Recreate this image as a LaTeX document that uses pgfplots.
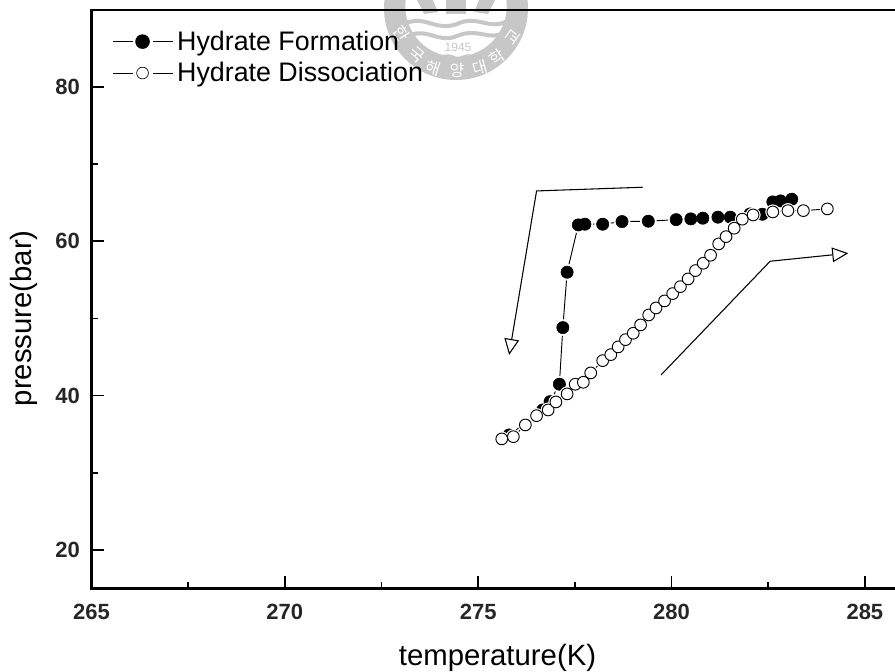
\documentclass[border=0pt]{standalone}
\usepackage{fontspec}
\setmainfont{Liberation Sans}
\newfontfamily\krfont{Noto Sans CJK KR}
\usepackage{pgfplots}
\pgfplotsset{compat=1.18}
\usetikzlibrary{arrows.meta}
\definecolor{seal}{gray}{0.78}
\pgfplotstableread{
x y
283.11 65.45
282.82 65.23
282.62 65.10
282.35 63.50
282.03 63.54
281.52 63.12
281.20 63.12
280.81 62.99
280.50 62.90
280.12 62.80
279.40 62.60
278.72 62.55
278.22 62.21
277.76 62.21
277.59 62.12
277.30 55.99
277.19 48.81
277.10 41.48
276.86 39.22
276.67 38.14
276.51 37.50
275.80 34.90
}\formation
\pgfplotstableread{
x y
275.61 34.39
275.91 34.68
276.22 36.20
276.51 37.40
276.81 38.14
277.01 39.18
277.30 40.22
277.51 41.47
277.72 41.73
277.91 42.94
278.22 44.53
278.43 45.31
278.62 46.31
278.81 47.25
279.01 48.08
279.20 49.16
279.41 50.45
279.60 51.36
279.82 52.27
280.03 53.22
280.23 54.12
280.43 55.12
280.62 56.20
280.82 57.15
281.01 58.19
281.22 59.66
281.41 60.60
281.62 61.69
281.83 62.86
282.11 63.41
282.62 63.80
283.01 63.97
283.41 63.97
284.03 64.19
}\dissociation
\begin{document}
\begin{tikzpicture}
\useasboundingbox (0,0) rectangle (671.25pt,-503.25pt);
% watermark seal
\begin{scope}[x=0.75pt,y=-0.75pt]
\fill[seal] (456,8) circle (54pt);
\fill[white] (456,6) circle (38pt);
\draw[seal,line width=3pt] (404,24) .. controls (425,14) and (435,32) .. (457,24) .. controls (478,14) and (490,32) .. (509,20);
\draw[seal,line width=3pt] (408,36) .. controls (428,27) and (438,44) .. (457,36) .. controls (478,27) and (490,42) .. (505,32);
\fill[seal] (416,-2) -- (432,-2) -- (438,12) -- (424,14) -- cycle;
\fill[seal] (446,-2) rectangle (466,14);
\fill[seal] (480,-2) -- (496,-2) -- (488,14) -- (474,12) -- cycle;
\node[seal,font=\fontsize{9}{9}\selectfont] at (458,47) {1945};
\draw[seal,line width=1.2pt] (438,58) .. controls (446,53) and (452,55) .. (458,59) .. controls (464,55) and (470,53) .. (478,58);
\node[white,font=\krfont\fontsize{12}{12}\selectfont,rotate=-58] at (402,33) {한};
\node[white,font=\krfont\fontsize{12}{12}\selectfont,rotate=-40] at (417,55) {국};
\node[white,font=\krfont\fontsize{12}{12}\selectfont,rotate=-18] at (433,68) {해};
\node[white,font=\krfont\fontsize{12}{12}\selectfont] at (457,70) {양};
\node[white,font=\krfont\fontsize{12}{12}\selectfont,rotate=15] at (480,68) {대};
\node[white,font=\krfont\fontsize{12}{12}\selectfont,rotate=35] at (497,57) {학};
\node[white,font=\krfont\fontsize{12}{12}\selectfont,rotate=55] at (513,37) {교};
\end{scope}
\begin{axis}[
  at={(68.6pt,-441.4pt)}, anchor=south west,
  scale only axis, width=609.05pt, height=434.1pt,
  xmin=265, xmax=286, ymin=15, ymax=90,
  xtick={265,270,275,280,285}, ytick={20,40,60,80},
  minor x tick num=1, minor y tick num=1,
  xtick pos=bottom, ytick pos=left, tick align=inside,
  major tick length=9.4pt, minor tick length=5pt,
  line width=1.7pt,
  every tick/.append style={line width=1.3pt,black},
  /pgf/number format/assume math mode=true,
  xticklabel style={/pgf/number format/1000 sep=},
  tick label style={font=\bfseries\fontsize{16.5}{16.5}\selectfont,text=black!85},
  x tick label style={yshift=-7.5pt},
  y tick label style={xshift=-4.5pt},
  every axis x label/.style={at={(axis description cs:0.5,-0.12)},anchor=center},
  every axis y label/.style={at={(axis description cs:-0.083,0.467)},rotate=90,anchor=center},
  label style={font=\fontsize{22}{22}\selectfont},
  xlabel={temperature(K)}, ylabel={pressure(bar)},
  legend style={draw=none,fill=none,at={(0.024,0.97)},anchor=north west,
    font=\fontsize{20.1}{20.1}\selectfont,row sep=3.5pt,inner sep=0pt},
  legend cell align=left,
  clip=false,
]
% direction arrows
\addplot[black,line width=0.8pt,forget plot,-{Triangle[open,fill=white,length=12pt,width=11pt]}]
  coordinates {(279.25,67.00) (276.51,66.52) (275.80,45.27)};
\addplot[black,line width=0.8pt,forget plot,-{Triangle[open,fill=white,length=12pt,width=11pt]}]
  coordinates {(279.73,42.68) (282.55,57.41) (284.57,58.45)};
% formation
\addplot[black,line width=0.7pt,forget plot] table[x=x,y=y] {\formation};
\addplot[only marks,forget plot,mark=*,mark size=6pt,mark options={draw=white,fill=white,line width=0.4pt}] table[x=x,y=y] {\formation};
\addplot[only marks,forget plot,mark=*,mark size=4.6pt,mark options={draw=black,fill=black,line width=0.4pt}] table[x=x,y=y] {\formation};
% dissociation
\addplot[black,line width=0.7pt,forget plot] table[x=x,y=y] {\dissociation};
\addplot[only marks,forget plot,mark=*,mark size=5.4pt,mark options={draw=white,fill=white,line width=0.4pt}] table[x=x,y=y] {\dissociation};
\addplot[only marks,forget plot,mark=*,mark size=4.4pt,mark options={draw=black,line width=0.7pt,fill=white}] table[x=x,y=y] {\dissociation};
\addlegendimage{legend image code/.code={
  \path[draw=none,fill=none] (0,0) rectangle (46.5pt,0.1pt);
  \draw[black,line width=0.7pt] (0,0)--(15pt,0) (30.5pt,0)--(45pt,0);
  \fill[black] (22.5pt,0) circle (4.6pt);
}}
\addlegendentry{Hydrate Formation}
\addlegendimage{legend image code/.code={
  \path[draw=none,fill=none] (0,0) rectangle (46.5pt,0.1pt);
  \draw[black,line width=0.7pt] (0,0)--(15pt,0) (30.5pt,0)--(45pt,0);
  \draw[black,line width=0.5pt,fill=white] (22.5pt,0) circle (4.4pt);
}}
\addlegendentry{Hydrate Dissociation}
\end{axis}
\end{tikzpicture}
\end{document}
